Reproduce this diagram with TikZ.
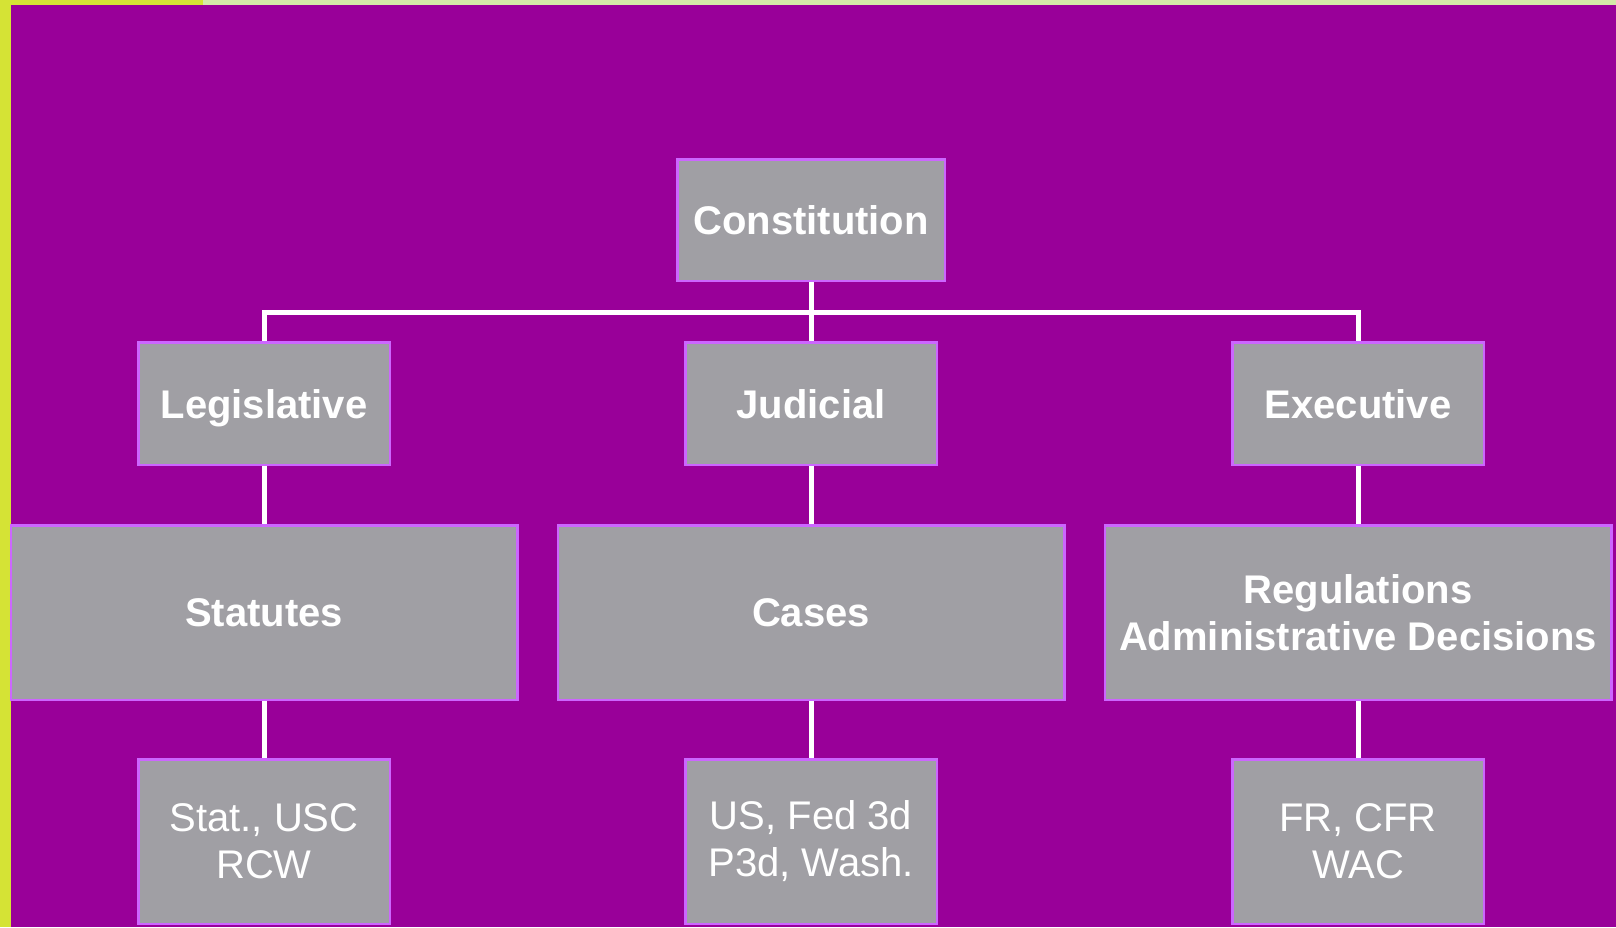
\documentclass[tikz,border=0pt]{standalone}
\usepackage{fontspec}
\setmainfont{Liberation Sans}
\usetikzlibrary{positioning}
\definecolor{bgpurple}{HTML}{990099}
\definecolor{boxgray}{HTML}{A09FA4}
\definecolor{boxedge}{HTML}{CC66FF}
\definecolor{stripyellow}{HTML}{D5E335}
\definecolor{stripgreen}{HTML}{D4EAA8}
\tikzstyle{top} = [rectangle, minimum width=267.5pt, minimum height=121.5pt, align=center, draw=boxedge, line width=2.5pt, fill=boxgray, text=white, inner sep=0pt, text height=29pt, text depth=0pt, font=\fontsize{40}{47}\selectfont\bfseries]
\tikzstyle{branch} = [rectangle, minimum width=251.5pt, minimum height=122.5pt, align=center, draw=boxedge, line width=2.5pt, fill=boxgray, text=white, inner sep=0pt, text height=29pt, text depth=0pt, font=\fontsize{40}{47}\selectfont\bfseries]
\tikzstyle{source} = [rectangle, minimum width=506.5pt, minimum height=174.5pt, align=center, draw=boxedge, line width=2.5pt, fill=boxgray, text=white, inner sep=0pt, font=\fontsize{40}{47}\selectfont\bfseries]
\tikzstyle{citation} = [rectangle, minimum width=251.5pt, minimum height=164.5pt, align=center, draw=boxedge, line width=2.5pt, fill=boxgray, text=white, inner sep=0pt, font=\fontsize{40}{47}\selectfont]
\tikzstyle{link} = [white, line width=5pt]
\begin{document}
\begin{tikzpicture}[x=1pt, y=-1pt]

% Background
\fill[stripyellow] (0,0) rectangle (1616,927);
\fill[stripgreen] (203,0) rectangle (1616,5);
\fill[bgpurple] (11,5) rectangle (1616,927);
\useasboundingbox (0,0) rectangle (1616,927);

% Top node
\node (constitution) [top] at (811,220) {Constitution};

% Branches
\node (judicial) [branch, below=59pt of constitution] {Judicial};
\node (legislative) [branch, left=293pt of judicial] {Legislative};
\node (executive) [branch, right=293pt of judicial] {Executive};

% Sources of law
\node (cases) [source, below=58pt of judicial] {Cases};
\node (statutes) [source, left=38pt of cases] {Statutes};
\node (regulations) [source, right=38pt of cases] {Regulations\\Administrative Decisions};

% Citations
\node (cases_cite) [citation, below=57pt of cases] {US, Fed 3d\\P3d, Wash.};
\node (statutes_cite) [citation, below=57pt of statutes] {Stat., USC\\RCW};
\node (regulations_cite) [citation, below=57pt of regulations] {FR, CFR\\WAC};

% Lines
\coordinate (bus) at (811,312);
\draw [link] (constitution) -- (judicial);
\draw [link] (legislative) |- (bus) -| (executive);
\draw [link] (legislative) -- (statutes);
\draw [link] (judicial) -- (cases);
\draw [link] (executive) -- (regulations);
\draw [link] (statutes) -- (statutes_cite);
\draw [link] (cases) -- (cases_cite);
\draw [link] (regulations) -- (regulations_cite);

\end{tikzpicture}
\end{document}
